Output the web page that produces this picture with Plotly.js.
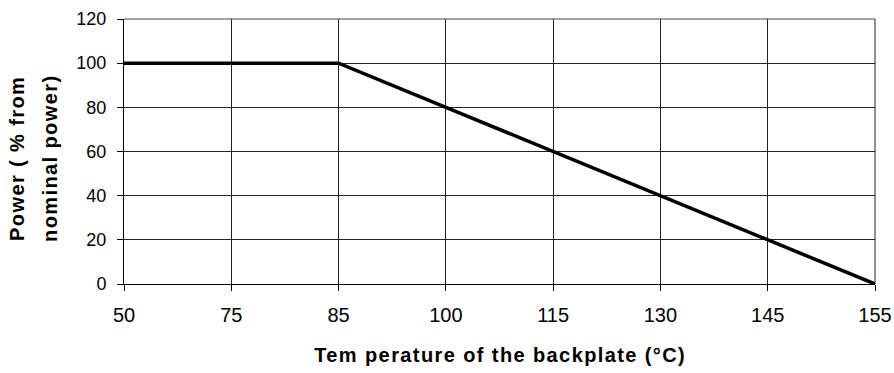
<!DOCTYPE html>
<html><head><meta charset="utf-8">
<script src="https://cdn.plot.ly/plotly-3.0.1.min.js"></script>
<style>
body{margin:0;padding:0;background:#fff}#chart{width:894px;height:373px}
</style>
</head><body><div id="chart"></div>
<script>
const temperatures = ['50','75','85','100','115','130','145','155'];
const powerPct = [100,100,100,80,60,40,20,0];
const yTicks = [0,20,40,60,80,100,120];
const xTitle = 'Tem perature of the backplate (°C)';
const yTitleLines = ['Power ( % from', 'nominal power)'];

const trace = {
  x: temperatures, y: powerPct, type: 'scatter', mode: 'lines',
  line: {color: '#000', width: 3.5}, hoverinfo: 'skip', cliponaxis: false
};
const fam = '"Liberation Sans", Arial, sans-serif';
const yFont = {family: fam, color: '#000', size: 18};
const xFont = {family: fam, color: '#000', size: 20};
const tFont = {family: fam, color: '#000', size: 20};
const layout = {
  width: 894, height: 373,
  margin: {l: 124, r: 19, t: 19, b: 89, pad: 0},
  paper_bgcolor: '#fff', plot_bgcolor: '#fff',
  showlegend: false, font: yFont,
  xaxis: {
    type: 'category', range: [0, 7],
    showgrid: true, gridcolor: '#222', gridwidth: 1,
    showline: true, linecolor: '#000', linewidth: 1,
    ticks: 'outside', ticklen: 6, tickcolor: '#000', tickwidth: 1,
    ticklabelstandoff: 7,
    tickfont: xFont, zeroline: false
  },
  yaxis: {
    range: [0, 120], tickvals: yTicks, ticktext: yTicks.map(String),
    showgrid: true, gridcolor: '#222', gridwidth: 1,
    showline: true, linecolor: '#000', linewidth: 1,
    ticks: 'outside', ticklen: 6, tickcolor: '#000', tickwidth: 1,
    ticklabelstandoff: 7,
    tickfont: yFont, zeroline: false
  },
  annotations: [
    {text: '<b>' + xTitle + '</b>', xref: 'paper', yref: 'paper', x: 0.5, y: 0,
     xanchor: 'center', yanchor: 'middle', yshift: -71, showarrow: false, font: tFont},
    {text: '<b>' + yTitleLines[0] + '</b>', xref: 'paper', yref: 'paper', x: 0, y: 0.475,
     xanchor: 'center', yanchor: 'middle', xshift: -107, textangle: -90, showarrow: false, font: tFont},
    {text: '<b>' + yTitleLines[1] + '</b>', xref: 'paper', yref: 'paper', x: 0, y: 0.475,
     xanchor: 'center', yanchor: 'middle', xshift: -74, textangle: -90, showarrow: false, font: tFont}
  ],
  shapes: [{type: 'line', xref: 'paper', yref: 'paper', x0: 1, x1: 1, y0: 0, y1: 1, line: {color: '#222', width: 1}},
           {type: 'line', xref: 'paper', yref: 'paper', x0: 0, x1: 1, y0: 1, y1: 1, line: {color: '#444', width: 1}}]
};
Plotly.newPlot('chart', [trace], layout, {staticPlot: true, displayModeBar: false}).then(function(gd){
  gd.querySelectorAll('.annotation-text').forEach(function(t){
    t.style.letterSpacing = '1.4px';
  });
});
</script></body></html>
